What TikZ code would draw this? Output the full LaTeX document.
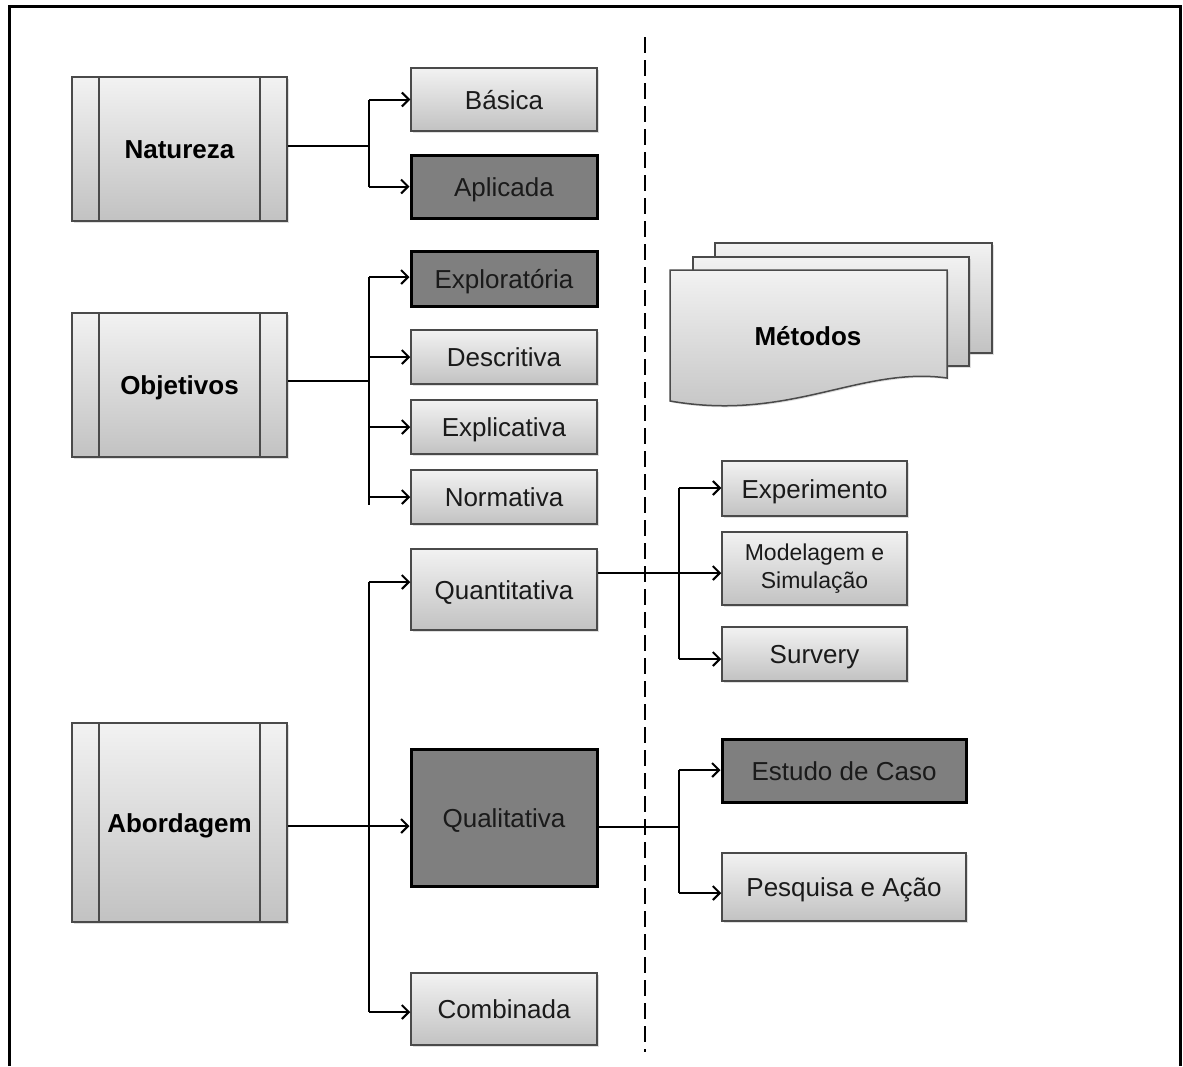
\documentclass[tikz,border=0pt]{standalone}
\usepackage{fontspec}
\setmainfont{Liberation Sans}
\usetikzlibrary{arrows.meta,shadows}

\definecolor{boxtop}{HTML}{F2F2F2}
\definecolor{boxbot}{HTML}{C2C2C2}
\definecolor{boxedge}{HTML}{4A4A4A}
\definecolor{darkfill}{HTML}{7F7F7F}
\definecolor{txt}{HTML}{1A1A1A}

\tikzset{
  lbl/.style={font=\fontsize{26}{31}\selectfont, text=txt,
    text height=23pt, text depth=4pt},
  lightbox/.style={draw=boxedge, line width=1.5pt, top color=boxtop, bottom color=boxbot,
    minimum width=186pt, inner sep=0pt, lbl,
    drop shadow={shadow xshift=1.5pt, shadow yshift=-1.5pt, opacity=0.25}},
  darkbox/.style={draw=black, line width=3pt, fill=darkfill,
    minimum width=186pt, inner sep=0pt, lbl,
    drop shadow={shadow xshift=1.5pt, shadow yshift=-1.5pt, opacity=0.25}},
  procbox/.style={draw=boxedge, line width=1.8pt, top color=boxtop, bottom color=boxbot,
    minimum width=215pt, inner sep=0pt,
    font=\fontsize{26}{31}\selectfont\bfseries, text=black,
    text height=23pt, text depth=4pt,
    drop shadow={shadow xshift=1.5pt, shadow yshift=-1.5pt, opacity=0.25},
    path picture={
      \draw[boxedge, line width=1.8pt]
        ([xshift=27pt]path picture bounding box.north west) --
        ([xshift=27pt]path picture bounding box.south west);
      \draw[boxedge, line width=1.8pt]
        ([xshift=-27pt]path picture bounding box.north east) --
        ([xshift=-27pt]path picture bounding box.south east);
    }},
  link/.style={line width=2pt, black},
  arr/.style={link, -{Straight Barb[length=7pt, width=14pt]}},
  docpage/.style={draw=boxedge, line width=1.5pt, top color=boxtop, bottom color=boxbot,
    drop shadow={shadow xshift=1.5pt, shadow yshift=-1.5pt, opacity=0.25}}
}

\begin{document}
\begin{tikzpicture}[x=1pt, y=-1pt]
  \useasboundingbox (0,0) rectangle (1183,1066);
  \fill[white] (0,0) rectangle (1183,1066);

  % outer frame (open at the bottom)
  \draw[line width=3pt] (9,1066) -- (9,6) -- (1180,6) -- (1180,1066);

  % separator
  \draw[line width=2pt, dash pattern=on 16pt off 7pt] (645,37) -- (645,1052);

  % classification boxes
  \node[procbox, minimum height=144pt] (nat) at (179.5,149) {Natureza};
  \node[procbox, minimum height=144pt] (obj) at (179.5,385) {Objetivos};
  \node[procbox, minimum height=199pt] (abo) at (179.5,822.5) {Abordagem};

  % options
  \node[lightbox, minimum height=63pt] (bas) at (504,99.5) {Básica};
  \node[darkbox,  minimum height=63pt] (apl) at (504,186.5) {Aplicada};
  \node[darkbox,  minimum height=55pt] (exp) at (504,278.5) {Exploratória};
  \node[lightbox, minimum height=54pt] (des) at (504,357) {Descritiva};
  \node[lightbox, minimum height=54pt] (exl) at (504,427) {Explicativa};
  \node[lightbox, minimum height=54pt] (nor) at (504,497) {Normativa};
  \node[lightbox, minimum height=81pt] (qua) at (504,589.5) {Quantitativa};
  \node[darkbox,  minimum height=137pt] (qul) at (504,817.5) {Qualitativa};
  \node[lightbox, minimum height=72pt] (com) at (504,1009) {Combinada};

  % methods
  \node[lightbox, minimum width=185pt, minimum height=55pt] (xpe) at (814.5,488.5) {Experimento};
  \node[lightbox, minimum width=185pt, minimum height=73pt, align=center,
        font=\fontsize{23}{28}\selectfont, text height=, text depth=] (mod) at (814.5,568.5) {Modelagem e\\Simulação};
  \node[lightbox, minimum width=185pt, minimum height=54pt] (sur) at (814.5,654) {Survery};
  \node[darkbox,  minimum width=244pt, minimum height=63pt] (est) at (844,770.5) {Estudo de Caso};
  \node[lightbox, minimum width=244pt, minimum height=68pt] (pes) at (844,887) {Pesquisa e Ação};

  % stacked documents
  \path[docpage] (715,243) rectangle (992,353);
  \path[docpage] (693,257) rectangle (969,366);
  \path[docpage]
    (670,270) -- (947,270) -- (947,378)
    .. controls (860,366) and (790,422) .. (670,401) -- cycle;
  \node[font=\fontsize{26}{31}\selectfont\bfseries, text height=23pt, text depth=4pt]
    (met) at (808,336) {Métodos};

  % Natureza
  \draw[link] (nat.east |- 0,146) -- (369,146) coordinate (jn);
  \draw[link] (jn |- bas.west) -- (jn |- apl.west);
  \draw[arr] (jn |- bas.west) -- (bas.west);
  \draw[arr] (jn |- apl.west) -- (apl.west);

  % Objetivos
  \draw[link] (obj.east |- 0,381) -- (369,381) coordinate (jo);
  \draw[link] (jo |- 0,277) -- (jo |- 0,505);
  \draw[arr] (jo |- 0,277) -- (exp.west |- 0,277);
  \draw[arr] (jo |- des.west) -- (des.west);
  \draw[arr] (jo |- exl.west) -- (exl.west);
  \draw[arr] (jo |- nor.west) -- (nor.west);

  % Abordagem
  \draw[arr] (abo.east |- 0,826) -- (qul.west |- 0,826);
  \coordinate (ja) at (369,826);
  \draw[link] (ja |- 0,582) -- (ja |- 0,1012);
  \draw[arr] (ja |- 0,582) -- (qua.west |- 0,582);
  \draw[arr] (ja |- 0,1012) -- (com.west |- 0,1012);

  % Quantitativa
  \draw[arr] (qua.east |- 0,573) -- (mod.west |- 0,573);
  \coordinate (jq) at (679,573);
  \draw[link] (jq |- 0,488) -- (jq |- 0,659);
  \draw[arr] (jq |- 0,488) -- (xpe.west |- 0,488);
  \draw[arr] (jq |- 0,659) -- (sur.west |- 0,659);

  % Qualitativa
  \draw[link] (qul.east |- 0,827) -- (679,827) coordinate (jl);
  \draw[link] (jl |- 0,770) -- (jl |- 0,893);
  \draw[arr] (jl |- 0,770) -- (est.west |- 0,770);
  \draw[arr] (jl |- 0,893) -- (pes.west |- 0,893);
\end{tikzpicture}
\end{document}
